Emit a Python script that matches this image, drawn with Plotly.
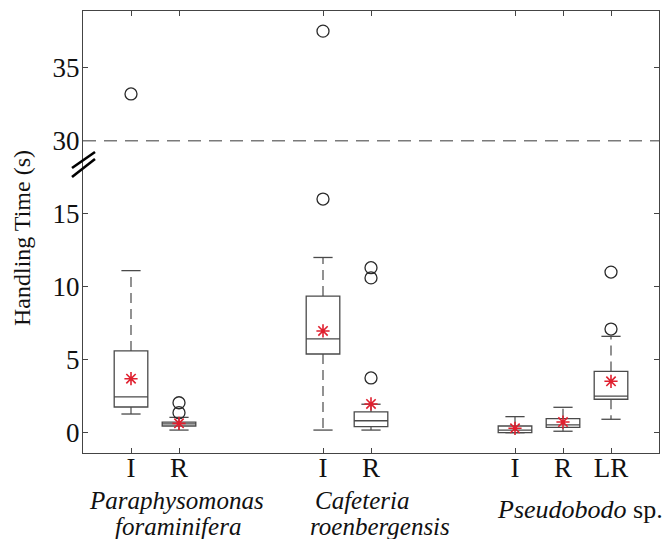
import plotly.graph_objects as go

# ---- data (display values, seconds) ----
positions = [1, 2, 5, 6, 9, 10, 11]
tick_labels = ["I", "R", "I", "R", "I", "R", "LR"]
q1 = [1.76, 0.46, 5.39, 0.41, 0.0, 0.37, 2.29]
median = [2.45, 0.60, 6.42, 0.82, 0.18, 0.53, 2.51]
q3 = [5.60, 0.73, 9.36, 1.42, 0.46, 0.96, 4.20]
lower_whisker = [1.28, 0.18, 0.18, 0.18, 0.0, 0.10, 0.92]
upper_whisker = [11.1, 1.05, 12.0, 1.95, 1.10, 1.74, 6.60]
means = [3.70, 0.64, 6.97, 1.97, 0.30, 0.73, 3.52]
outliers = [[33.2], [1.37, 2.05], [16.0, 37.5], [3.75, 10.6, 11.3], [], [], [7.1, 11.0]]

y_tick_vals = [0, 5, 10, 15, 30, 35]
break_value = 30      # values above the break are shifted down by the gap
break_gap = 10

def to_plot(v):
    return v - break_gap if v >= break_value - 5 else v

FONT = "Liberation Serif"
BOXC = "#4a4a4a"
BOX_W = 0.7
CAP_W = 0.4

fig = go.Figure()

fig.add_trace(go.Box(
    x=positions, q1=q1, median=median, q3=q3,
    lowerfence=q1, upperfence=q3,
    width=BOX_W, whiskerwidth=0,
    line=dict(color=BOXC, width=1.3), fillcolor="rgba(255,255,255,0)",
    boxpoints=False, hoverinfo="skip", showlegend=False,
))

# dashed whiskers
wx, wy = [], []
for p, a, b, lo, hi in zip(positions, q1, q3, lower_whisker, upper_whisker):
    wx += [p, p, None, p, p, None]
    wy += [b, hi, None, a, lo, None]
fig.add_trace(go.Scatter(x=wx, y=wy, mode="lines",
                         line=dict(color=BOXC, width=1.2, dash="10px,6px"),
                         hoverinfo="skip", showlegend=False))
# caps
cx, cy = [], []
for p, lo, hi in zip(positions, lower_whisker, upper_whisker):
    cx += [p - CAP_W / 2, p + CAP_W / 2, None, p - CAP_W / 2, p + CAP_W / 2, None]
    cy += [hi, hi, None, lo, lo, None]
fig.add_trace(go.Scatter(x=cx, y=cy, mode="lines",
                         line=dict(color=BOXC, width=1.3),
                         hoverinfo="skip", showlegend=False))

# outliers
ox, oy = [], []
for p, vals in zip(positions, outliers):
    for v in vals:
        ox.append(p)
        oy.append(to_plot(v))
fig.add_trace(go.Scatter(x=ox, y=oy, mode="markers",
                         marker=dict(symbol="circle-open", size=12, color="#2a2a2a",
                                     line=dict(color="#2a2a2a", width=1.3)),
                         hoverinfo="skip", showlegend=False))

# means
fig.add_trace(go.Scatter(x=positions, y=means, mode="markers",
                         marker=dict(symbol="asterisk-open", size=11, color="#e0202f",
                                     line=dict(color="#e0202f", width=1.6)),
                         hoverinfo="skip", showlegend=False))

# dashed break line
fig.add_shape(type="line", xref="paper", yref="y", x0=0, x1=1,
              y0=to_plot(break_value), y1=to_plot(break_value),
              line=dict(color="#7a7a7a", width=1.5, dash="13px,8px"))

# break marks "//"
for (x0, y0, x1, y1) in [(-0.0191, 0.6448, 0.0208, 0.681), (-0.0191, 0.6244, 0.0208, 0.6652)]:
    fig.add_shape(type="line", xref="paper", yref="paper", x0=x0, y0=y0, x1=x1, y1=y1,
                  line=dict(color="black", width=2.6))

axis_common = dict(showline=True, linecolor="#444", linewidth=1, mirror="ticks",
                   ticks="inside", ticklen=5, tickcolor="#444", showgrid=False,
                   zeroline=False)

fig.update_xaxes(range=[0, 12], tickvals=positions, ticktext=tick_labels,
                 ticklabelstandoff=-9,
                 tickfont=dict(family=FONT, size=27, color="#111"), **axis_common)
fig.update_yaxes(range=[-1.39, 28.88], tickvals=[to_plot(v) for v in y_tick_vals],
                 ticktext=[str(v) for v in y_tick_vals],
                 ticklabelstandoff=-3,
                 tickfont=dict(family=FONT, size=27, color="#111"), **axis_common)

ann = [
    dict(text="Handling Time (s)", x=-0.1059, y=0.4864, textangle=-90, size=24,
         xanchor="center", yanchor="middle"),
    dict(text="<i>Paraphysomonas</i>", x=0.163, y=-0.108, size=25, xanchor="center", yanchor="middle"),
    dict(text="<i>foraminifera</i>", x=0.165, y=-0.167, size=25, xanchor="center", yanchor="middle"),
    dict(text="<i>Cafeteria</i>", x=0.3993, y=-0.108, size=25, xanchor="left", yanchor="middle"),
    dict(text="<i>roenbergensis</i>", x=0.3906, y=-0.167, size=25, xanchor="left", yanchor="middle"),
    dict(text="<i>Pseudobodo</i> sp.", x=0.715, y=-0.128, size=26, xanchor="left", yanchor="middle"),
]
for a in ann:
    fig.add_annotation(text=a["text"], x=a["x"], y=a["y"], xref="paper", yref="paper",
                       showarrow=False, textangle=a.get("textangle", 0),
                       xanchor=a["xanchor"], yanchor=a["yanchor"],
                       font=dict(family=FONT, size=a["size"], color="#111"))

fig.update_layout(width=664, height=539, margin=dict(l=83, r=5, t=11, b=86),
                  plot_bgcolor="white", paper_bgcolor="white", showlegend=False)

fig.write_html("out.html")
